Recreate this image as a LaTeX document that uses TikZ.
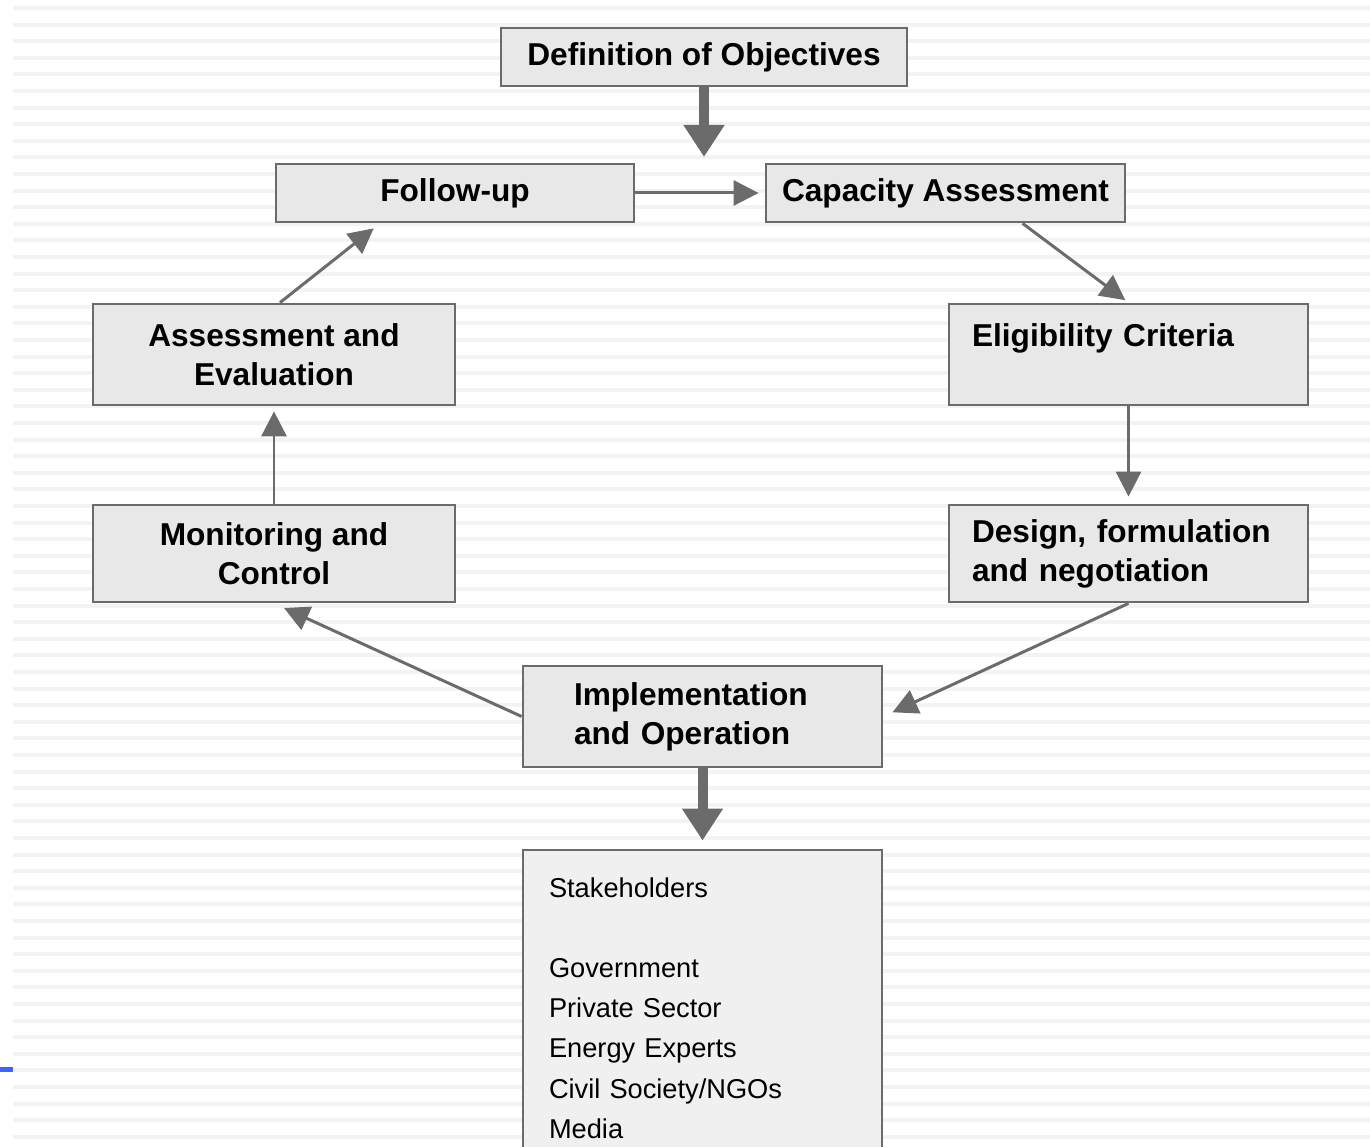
\documentclass[tikz,border=0pt]{standalone}
\usepackage{fontspec}
\setmainfont{Liberation Sans}
\usetikzlibrary{arrows.meta}
\definecolor{edgegray}{HTML}{6B6B6B}
\definecolor{boxgray}{HTML}{E8E8E8}
\definecolor{listgray}{HTML}{F0F0F0}
\definecolor{stripegray}{HTML}{F3F3F3}
\definecolor{markblue}{HTML}{3A66FF}
\tikzset{
  stage/.style={draw=edgegray, fill=boxgray, line width=1.6pt, inner sep=0pt,
    font=\bfseries\fontsize{18}{22.2}\selectfont},
  leftstage/.style={stage, align=left, text width=#1},
  flow/.style={draw=edgegray, line width=1.7pt, -{Triangle[length=0.5cm,width=0.5cm]}},
  bigflow/.style={draw=edgegray, line width=5.7pt, -{Triangle[length=0.64cm,width=0.78cm]}}
}
\begin{document}
\begin{tikzpicture}
  \useasboundingbox (0,0) rectangle (27.4,22.92);
  \clip (0,0) rectangle (27.4,22.92);
  \foreach \k in {0,...,68}
    \fill[stripegray] (0.26,{22.8-0.332*\k}) rectangle (27.4,{22.72-0.332*\k});
  \fill[markblue] (0,1.48) rectangle (0.26,1.58);

  \node[stage, minimum width=8.12cm, minimum height=1.16cm] (def) at (14.08,21.78) {Definition of Objectives};
  \node[stage, minimum width=7.16cm, minimum height=1.16cm] (follow) at (9.10,19.06) {Follow-up};
  \node[stage, minimum width=7.18cm, minimum height=1.16cm] (capacity) at (18.91,19.06) {Capacity Assessment};
  \node[stage, align=center, minimum width=7.24cm, minimum height=2.02cm] (assess) at (5.48,15.83) {Assessment and\\Evaluation};
  \node[leftstage=6.26cm, inner xsep=0.46cm, minimum height=2.02cm] (elig) at (22.57,15.83) {Eligibility Criteria\\\mbox{}};
  \node[stage, align=center, minimum width=7.24cm, minimum height=1.94cm] (monit) at (5.48,11.85) {Monitoring and\\Control};
  \node[leftstage=6.26cm, inner xsep=0.46cm, minimum height=1.94cm] (design) at (22.57,11.85) {Design, formulation\\and negotiation};
  \node[leftstage=5.14cm, inner xsep=1.02cm, minimum height=2.02cm] (impl) at (14.05,8.59) {Implementation\\and Operation};
  \node[stage, fill=listgray, align=left, text width=6.14cm, inner xsep=0.52cm, minimum height=6.32cm,
    font=\fontsize{15.5}{22.9}\selectfont] (stake) at (14.05,2.76)
    {Stakeholders\\\mbox{}\\Government\\Private Sector\\Energy Experts\\Civil Society/NGOs\\Media};
  \coordinate (entry) at (14.08,19.78);

  \draw[bigflow] (def.south) -- (entry);
  \draw[flow, shorten >=0.12cm] (follow.east) -- (capacity.west);
  \draw[flow, shorten >=0.08cm] ([xshift=1.54cm]capacity.south) -- (elig.north);
  \draw[flow, shorten >=0.14cm] (elig.south) -- (design.north);
  \draw[flow, shorten >=0.2cm] (design.south) -- (impl.east);
  \draw[flow, shorten >=0.22cm] (impl.west) -- (monit.south);
  \draw[flow, shorten >=0.1cm] (monit.north) -- (assess.south);
  \draw[flow, shorten >=0.16cm] ([xshift=0.12cm]assess.north) -- ([xshift=-1.5cm]follow.south);
  \draw[bigflow, shorten >=0.16cm] (impl.south) -- (stake.north);
\end{tikzpicture}
\end{document}
